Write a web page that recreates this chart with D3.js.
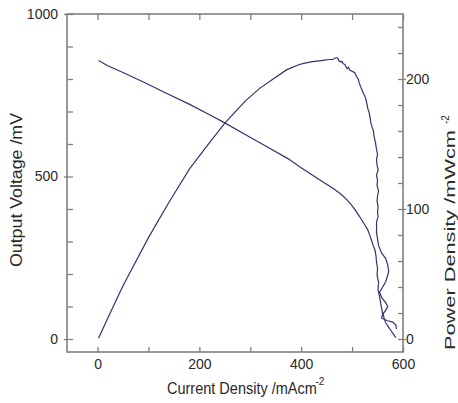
<!DOCTYPE html>
<html>
<head>
<meta charset="utf-8">
<script src="https://cdn.jsdelivr.net/npm/d3@7"></script>
<style>
  body { margin: 0; background: #fff; }
  text { font-family: "Liberation Sans", Arial, sans-serif; fill: #2a2a2a; }
</style>
</head>
<body>
<div id="chart"></div>
<script>
// polarisation curve: current density (mA/cm2) vs output voltage (mV)
const voltCurrent = [2, 20, 50, 90, 130, 181, 220, 250, 290, 330, 374, 397, 430, 466, 480, 490, 499, 507, 515, 523, 531, 535, 538, 541, 545, 547, 548, 550, 549, 552, 551, 554, 556, 558, 560, 563, 566, 571, 576, 581, 586];
const voltValues  = [857, 841, 820, 791, 760, 722, 690, 665, 629, 594, 555, 530, 496, 460, 443, 428, 412, 395, 376, 356, 335, 318, 304, 290, 273, 255, 237, 217, 197, 174, 151, 130, 111, 95, 80, 64, 50, 38, 27, 15, 4];

// power curve: current density (mA/cm2) vs power density (mW/cm2)
const powerCurrent = [2, 20, 50, 100, 140, 181, 220, 250, 290, 319, 345, 371, 395, 405, 417, 426, 436, 446, 455, 462, 469, 472, 474, 478, 480, 482, 486, 490, 493, 495, 500, 502, 505, 510, 512, 514, 518, 520, 522, 526, 528, 531, 533, 535, 537, 540, 542, 543, 546, 547, 548, 550, 548, 549, 551, 548, 550, 549, 552, 550, 549, 551, 550, 551, 548, 548, 552, 558, 566, 570, 572, 570, 566, 560, 554, 558, 566, 570, 566, 560, 558, 570, 580, 586, 587];
const powerValues  = [0.5, 16, 41, 78, 105, 131, 151, 166, 183, 193, 200, 207, 211, 212, 213, 213.5, 214, 214.5, 215, 215, 216.5, 216, 214, 213, 213.5, 212, 211, 208, 209, 207, 206, 205.5, 205, 201, 200, 197, 193, 191, 189, 186, 183, 177, 175, 171, 166, 162, 160, 156, 151, 148, 146, 142, 138, 134, 130, 126, 122, 118, 114, 110, 106, 102, 98, 94, 90, 82, 72, 66, 62, 57, 52, 49, 44, 40, 36, 32, 28, 25, 22, 19, 16, 14, 13, 10.8, 7.7, 3.8, 1.5];

const xTicks = [0, 100, 200, 300, 400, 500, 600];
const xLabels = [0, 200, 400, 600];
const vTicks = [0, 100, 200, 300, 400, 500, 600, 700, 800, 900, 1000];
const vLabels = [0, 500, 1000];
const pTicks = [0, 20, 40, 60, 80, 100, 120, 140, 160, 180, 200, 220, 240];
const pLabels = [0, 100, 200];

const W = 458, H = 403;
const m = {left: 67, right: 55, top: 14, bottom: 51};
const w = W - m.left - m.right;
const h = H - m.top - m.bottom;

const svg = d3.select("#chart").append("svg")
    .attr("width", W)
    .attr("height", H);

const g = svg.append("g").attr("transform", "translate(" + m.left + "," + m.top + ")");

const x = d3.scaleLinear().domain([-60, 600]).range([0, w]);
const yV = d3.scaleLinear().domain([-40, 1000]).range([h, 0]);
const yP = d3.scaleLinear().domain([-10, 250]).range([h, 0]);

const axisColor = "#808080";
const lineColor = "#33336e";

// axes, ticks pointing inward
const xAxis = g.append("g")
    .attr("transform", "translate(0," + h + ")")
    .call(d3.axisBottom(x).tickValues(xTicks).tickSize(-5).tickPadding(7)
        .tickFormat(d => xLabels.includes(d) ? d : ""));

const xTop = g.append("g")
    .call(d3.axisTop(x).tickValues(xTicks).tickSize(-6).tickFormat(""));

const vAxis = g.append("g")
    .call(d3.axisLeft(yV).tickValues(vTicks).tickSize(-6).tickPadding(9)
        .tickFormat(d => vLabels.includes(d) ? d : ""));

const pAxis = g.append("g")
    .attr("transform", "translate(" + w + ",0)")
    .call(d3.axisRight(yP).tickValues(pTicks).tickSize(-5).tickPadding(3)
        .tickFormat(d => pLabels.includes(d) ? d : ""));

[xAxis, xTop, vAxis, pAxis].forEach(a => {
    a.select(".domain").remove();
    a.selectAll(".tick line").attr("stroke", axisColor).attr("stroke-width", 1.3);
    a.selectAll(".tick text").style("font-size", "14px").attr("fill", "#2a2a2a")
        .style("font-family", "\"Liberation Sans\", Arial, sans-serif");
});

// major ticks poke a little outside the frame
vAxis.selectAll(".tick").filter(d => vLabels.includes(d)).append("line")
    .attr("x1", -3).attr("x2", 0).attr("stroke", axisColor).attr("stroke-width", 1.3);
pAxis.selectAll(".tick").filter(d => pLabels.includes(d)).append("line")
    .attr("x1", 0).attr("x2", 3).attr("stroke", axisColor).attr("stroke-width", 1.3);

// frame
g.append("rect")
    .attr("x", 0).attr("y", 0)
    .attr("width", w).attr("height", h)
    .attr("fill", "none")
    .attr("stroke", axisColor)
    .attr("stroke-width", 1.6);

// curves
const voltLine = d3.line()
    .x((d, i) => x(voltCurrent[i]))
    .y(d => yV(d));

const powerLine = d3.line()
    .x((d, i) => x(powerCurrent[i]))
    .y(d => yP(d));

g.append("path")
    .datum(voltValues)
    .attr("d", voltLine)
    .attr("fill", "none")
    .attr("stroke", lineColor)
    .attr("stroke-width", 1.2);

g.append("path")
    .datum(powerValues)
    .attr("d", powerLine)
    .attr("fill", "none")
    .attr("stroke", lineColor)
    .attr("stroke-width", 1.2);

// axis titles (slightly tall, narrow lettering like the original)
svg.append("text")
    .attr("transform", "translate(167,394) scale(1,1.1)")
    .style("font-size", "14.5px")
    .text("Current Density /mAcm");
svg.append("text")
    .attr("x", 315.5).attr("y", 385)
    .style("font-size", "10px")
    .text("-2");

svg.append("text")
    .attr("transform", "translate(21.5,190) rotate(-90)")
    .attr("text-anchor", "middle")
    .style("font-size", "16px")
    .attr("textLength", 154)
    .attr("lengthAdjust", "spacingAndGlyphs")
    .text("Output Voltage /mV");

svg.append("text")
    .attr("transform", "translate(455,350) rotate(-90)")
    .style("font-size", "15px")
    .attr("textLength", 220)
    .attr("lengthAdjust", "spacingAndGlyphs")
    .text("Power Density /mWcm");
svg.append("text")
    .attr("transform", "translate(449,124) rotate(-90)")
    .style("font-size", "10px")
    .text("-2");
</script>
</body>
</html>
